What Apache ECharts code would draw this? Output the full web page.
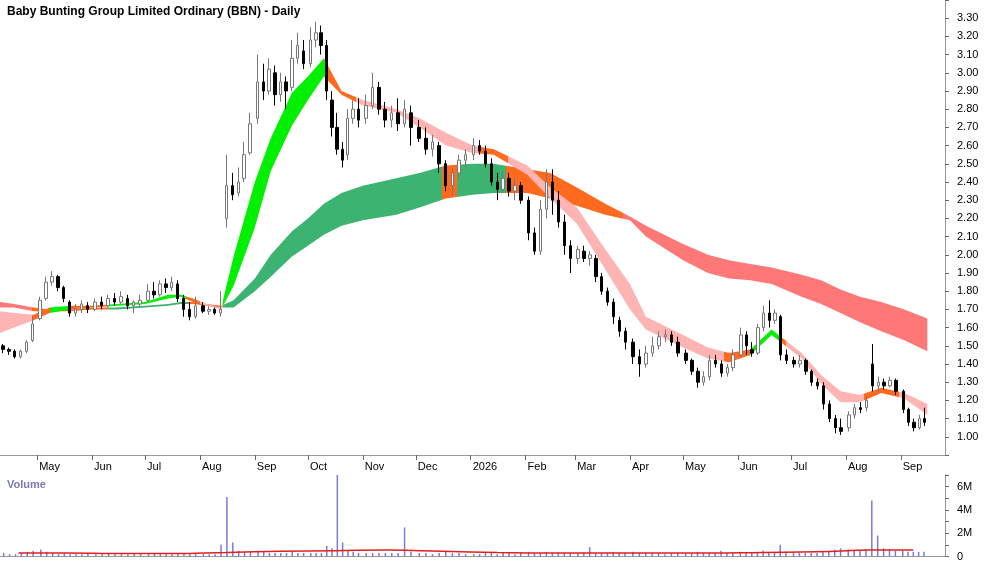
<!DOCTYPE html>
<html><head><meta charset="utf-8">
<script src="https://cdn.jsdelivr.net/npm/echarts@6/dist/echarts.min.js"></script>
<style>html,body{margin:0;padding:0;background:#fff}#c{width:1000px;height:562px}</style>
</head><body><div id="c"></div>
<script>
// months covered, with first/last trading day used
const months = ['2025-04','2025-05','2025-06','2025-07','2025-08','2025-09','2025-10','2025-11','2025-12','2026-01','2026-02','2026-03','2026-04','2026-05','2026-06','2026-07','2026-08','2026-09'];
const monthFirstDay = [10,1,1,1,1,1,1,1,1,1,1,1,1,1,1,1,1,1];
const monthLastDay  = [30,31,30,31,31,30,31,30,31,31,28,31,30,31,30,31,31,16];
// OHLC as [open, close, low, high], grouped by month
const ohlc = [
 [[1.50,1.48,1.46,1.51],[1.48,1.47,1.45,1.49],[1.47,1.44,1.43,1.48],[1.44,1.47,1.43,1.48],[1.47,1.52,1.46,1.53],[1.53,1.62,1.52,1.66]],
 [[1.65,1.75,1.64,1.77],[1.76,1.85,1.75,1.88],[1.85,1.88,1.83,1.91],[1.88,1.82,1.80,1.89],[1.82,1.76,1.74,1.83],[1.74,1.68,1.66,1.75],[1.68,1.70,1.66,1.73],[1.70,1.73,1.68,1.75],[1.72,1.70,1.68,1.74]],
 [[1.70,1.74,1.69,1.76],[1.74,1.72,1.70,1.77],[1.72,1.76,1.71,1.78],[1.76,1.74,1.72,1.79],[1.74,1.77,1.73,1.80],[1.76,1.72,1.70,1.78],[1.72,1.74,1.68,1.75],[1.73,1.75,1.71,1.78]],
 [[1.75,1.80,1.74,1.84],[1.80,1.78,1.76,1.85],[1.78,1.84,1.77,1.86],[1.84,1.82,1.79,1.87],[1.82,1.85,1.80,1.88],[1.84,1.76,1.74,1.86],[1.76,1.70,1.66,1.78],[1.70,1.66,1.64,1.74],[1.66,1.72,1.65,1.77]],
 [[1.72,1.69,1.68,1.74],[1.69,1.70,1.67,1.72],[1.70,1.68,1.67,1.71],[1.68,1.70,1.66,1.80],[2.20,2.38,2.15,2.55],[2.38,2.33,2.30,2.45],[2.34,2.40,2.32,2.48],[2.42,2.55,2.40,2.62],[2.56,2.72,2.55,2.78]],
 [[2.75,2.95,2.72,3.10],[2.95,2.90,2.85,3.05],[2.90,3.02,2.88,3.08],[3.00,2.88,2.82,3.04],[2.88,2.95,2.84,3.00],[2.95,2.90,2.80,2.98],[2.92,3.08,2.90,3.18],[3.08,3.15,3.05,3.22],[3.12,3.05,3.02,3.18]],
 [[3.05,3.18,3.03,3.25],[3.18,3.22,3.14,3.28],[3.22,3.15,3.10,3.26],[3.15,2.90,2.85,3.18],[2.85,2.70,2.65,2.90],[2.70,2.58,2.55,2.78],[2.58,2.52,2.48,2.62],[2.55,2.75,2.52,2.80],[2.75,2.80,2.72,2.85],[2.80,2.74,2.70,2.86]],
 [[2.75,2.82,2.72,2.88],[2.82,2.92,2.80,3.00],[2.92,2.80,2.77,2.95],[2.80,2.74,2.70,2.84],[2.74,2.78,2.70,2.82],[2.78,2.72,2.68,2.86],[2.72,2.80,2.70,2.85],[2.78,2.70,2.60,2.82]],
 [[2.70,2.64,2.62,2.74],[2.64,2.58,2.55,2.70],[2.58,2.62,2.54,2.66],[2.60,2.50,2.45,2.62],[2.50,2.38,2.35,2.52],[2.38,2.45,2.32,2.48],[2.45,2.52,2.42,2.55],[2.52,2.55,2.48,2.58]],
 [[2.55,2.60,2.52,2.64],[2.60,2.57,2.55,2.63],[2.57,2.50,2.48,2.60],[2.50,2.40,2.38,2.53],[2.40,2.36,2.30,2.45],[2.36,2.42,2.34,2.46],[2.42,2.35,2.32,2.45],[2.35,2.38,2.30,2.42],[2.38,2.30,2.28,2.40]],
 [[2.30,2.12,2.08,2.32],[2.12,2.02,2.00,2.15],[2.02,2.25,2.00,2.30],[2.25,2.40,2.20,2.47],[2.40,2.30,2.22,2.47],[2.30,2.18,2.15,2.35],[2.18,2.05,2.00,2.22],[2.05,1.98,1.90,2.08]],
 [[1.98,2.03,1.95,2.05],[2.02,1.98,1.96,2.05],[1.98,2.00,1.94,2.02],[1.98,1.88,1.85,2.00],[1.88,1.80,1.78,1.90],[1.80,1.74,1.72,1.82],[1.74,1.66,1.62,1.76],[1.64,1.58,1.55,1.66],[1.58,1.52,1.48,1.60]],
 [[1.52,1.44,1.40,1.54],[1.44,1.40,1.33,1.48],[1.40,1.46,1.38,1.50],[1.46,1.50,1.44,1.55],[1.50,1.55,1.48,1.58],[1.55,1.56,1.52,1.59],[1.56,1.52,1.50,1.58],[1.52,1.46,1.44,1.55]],
 [[1.46,1.42,1.40,1.48],[1.42,1.36,1.34,1.43],[1.36,1.30,1.27,1.38],[1.30,1.33,1.28,1.36],[1.33,1.42,1.31,1.45],[1.42,1.40,1.38,1.45],[1.40,1.35,1.33,1.42],[1.35,1.38,1.33,1.40],[1.38,1.45,1.36,1.48]],
 [[1.45,1.56,1.44,1.60],[1.56,1.50,1.45,1.58],[1.48,1.46,1.44,1.52],[1.46,1.60,1.45,1.62],[1.60,1.68,1.58,1.72],[1.68,1.64,1.60,1.75],[1.64,1.68,1.62,1.70],[1.66,1.45,1.42,1.67],[1.45,1.42,1.40,1.48]],
 [[1.42,1.40,1.38,1.44],[1.40,1.42,1.38,1.45],[1.42,1.36,1.34,1.43],[1.36,1.30,1.28,1.37],[1.30,1.28,1.26,1.32],[1.28,1.18,1.15,1.30],[1.18,1.10,1.08,1.20],[1.10,1.05,1.02,1.12],[1.05,1.03,1.01,1.10]],
 [[1.05,1.12,1.03,1.14],[1.12,1.16,1.10,1.18],[1.16,1.15,1.13,1.19],[1.16,1.20,1.14,1.22],[1.40,1.28,1.25,1.51],[1.28,1.30,1.25,1.33],[1.30,1.28,1.26,1.32],[1.28,1.31,1.27,1.33],[1.31,1.25,1.23,1.32]],
 [[1.25,1.15,1.13,1.26],[1.15,1.08,1.06,1.16],[1.08,1.05,1.03,1.10],[1.05,1.10,1.04,1.12],[1.10,1.08,1.06,1.16]]
];
// volume in millions, same grouping
const volume = [
 [.3,.2,.2,.3,.4,.5],
 [.6,.4,.3,.2,.3,.2,.2,.2,.3],
 [.2,.2,.3,.2,.2,.2,.2,.2],
 [.2,.3,.2,.2,.2,.3,.2,.2,.2],
 [.2,.2,.2,1.0,5.1,1.2,.5,.4,.4],
 [.5,.4,.3,.3,.3,.3,.4,.3,.3],
 [.3,.3,.3,.9,.7,7.0,1.2,.5,.4,.3],
 [.3,.3,.3,.3,.3,.3,2.5,.4],
 [.3,.3,.2,.3,.4,.3,.3,.2],
 [.2,.2,.3,.3,.2,.3,.3,.2,.3],
 [.4,.3,.3,.4,.3,.3,.3,.3],
 [.3,.3,.8,.3,.3,.3,.4,.3,.3],
 [.4,.3,.3,.3,.3,.2,.3,.3],
 [.3,.3,.4,.3,.3,.3,.5,.3,.3],
 [.4,.3,.3,.4,.5,.3,.3,1.0,.4],
 [.3,.3,.3,.3,.3,.4,.5,.6,.7],
 [.6,.5,.5,.6,4.8,1.8,.7,.6,.5],
 [.5,.4,.4,.4,.4]
];
// volume moving average (millions), one value per month
const volMA = [0.3,0.3,0.25,0.25,0.35,0.45,0.5,0.55,0.45,0.35,0.3,0.3,0.3,0.3,0.35,0.4,0.55,0.55];
// ribbon values
const bandDates = ['2025-04-10','2025-04-18','2025-04-29','2025-05-08','2025-05-20','2025-06-01','2025-06-15','2025-07-01','2025-07-14','2025-07-21','2025-07-28','2025-08-05','2025-08-13','2025-08-20','2025-09-01','2025-09-10','2025-09-22','2025-10-01','2025-10-10','2025-10-20','2025-11-01','2025-11-20','2025-12-03','2025-12-18','2026-01-02','2026-01-14','2026-02-02','2026-02-15','2026-03-02','2026-03-18','2026-04-01','2026-04-10','2026-05-01','2026-05-15','2026-05-27','2026-06-08','2026-06-20','2026-07-07','2026-07-18','2026-07-29','2026-08-09','2026-08-21','2026-09-03','2026-09-16'];
const shortTop = [1.69,1.68,1.67,1.71,1.72,1.72,1.73,1.74,1.78,1.78,1.76,1.73,1.71,1.99,2.40,2.64,2.89,2.98,3.08,2.90,2.85,2.80,2.75,2.67,2.60,2.58,2.49,2.37,2.26,2.03,1.84,1.66,1.56,1.49,1.46,1.48,1.59,1.46,1.34,1.25,1.23,1.27,1.24,1.18];
const shortBot = [1.57,1.60,1.64,1.68,1.70,1.71,1.72,1.73,1.76,1.77,1.74,1.72,1.70,1.83,2.15,2.46,2.71,2.85,2.98,2.88,2.82,2.78,2.70,2.60,2.56,2.55,2.44,2.31,2.17,1.92,1.70,1.59,1.49,1.43,1.41,1.45,1.56,1.43,1.29,1.19,1.19,1.24,1.21,1.12];
const longTop  = [1.74,1.73,1.71,1.70,1.70,1.71,1.71,1.72,1.73,1.74,1.74,1.73,1.72,1.75,1.87,2.00,2.13,2.20,2.28,2.34,2.38,2.42,2.45,2.49,2.50,2.50,2.47,2.45,2.37,2.28,2.21,2.16,2.06,2.00,1.97,1.95,1.93,1.89,1.86,1.81,1.77,1.74,1.70,1.65];
const longBot  = [1.71,1.71,1.69,1.69,1.69,1.70,1.70,1.71,1.72,1.73,1.73,1.72,1.71,1.71,1.80,1.88,1.99,2.05,2.11,2.16,2.19,2.22,2.26,2.31,2.33,2.34,2.34,2.31,2.27,2.22,2.19,2.10,1.97,1.90,1.87,1.86,1.84,1.77,1.73,1.68,1.63,1.58,1.53,1.47];
// colour regimes: [end date, colour]
const PINK='#ffb4b4', ORANGE='#ff6a1e', LGREEN='#00f000', DGREEN='#3cb371', RED='#ff7878';
const shortRegime = [['2025-04-28',PINK],['2025-05-08',ORANGE],['2025-05-20',LGREEN],['2025-06-10',ORANGE],['2025-07-24',LGREEN],['2025-08-01',ORANGE],['2025-08-14',PINK],['2025-10-11',LGREEN],['2025-10-28',ORANGE],['2026-01-05',PINK],['2026-01-22',ORANGE],['2026-05-24',PINK],['2026-06-08',ORANGE],['2026-06-24',LGREEN],['2026-06-28',ORANGE],['2026-08-11',PINK],['2026-08-31',ORANGE],['2026-12-31',PINK]];
const longRegime = [['2025-04-28',RED],['2025-06-10',ORANGE],['2025-07-25',DGREEN],['2025-08-14',ORANGE],['2025-12-16',DGREEN],['2025-12-24',ORANGE],['2026-01-21',DGREEN],['2026-03-28',ORANGE],['2026-12-31',RED]];

const T = s => new Date(s + 'T00:00:00Z').getTime();
const candles = [], vols = [], vma = [];
months.forEach((m, mi) => {
  const [y, mo] = m.split('-').map(Number);
  const a = Date.UTC(y, mo-1, monthFirstDay[mi]), b = Date.UTC(y, mo-1, monthLastDay[mi]);
  const n = ohlc[mi].length;
  ohlc[mi].forEach((d, i) => {
    const t = a + (b - a) * (i + 0.5) / n;
    candles.push([t, d[0], d[1], d[2], d[3]]);
    vols.push([t, volume[mi][i] * 1e6]);
  });
  vma.push([(a + b) / 2, volMA[mi] * 1e6]);
});
function pieces(reg){
  const p=[]; let prev=null;
  reg.forEach(([d,c])=>{ const e=T(d); p.push(prev===null?{lt:e,color:c}:{gte:prev,lt:e,color:c}); prev=e; });
  return p;
}
const sBase = bandDates.map((d,i)=>[T(d), shortBot[i]]);
const sThick = bandDates.map((d,i)=>[T(d), +(shortTop[i]-shortBot[i]).toFixed(3)]);
const lBase = bandDates.map((d,i)=>[T(d), longBot[i]]);
const lThick = bandDates.map((d,i)=>[T(d), +(longTop[i]-longBot[i]).toFixed(3)]);

const MN=['Jan','Feb','Mar','Apr','May','Jun','Jul','Aug','Sep','Oct','Nov','Dec'];
const xmin = T('2025-04-10'), xmax = T('2026-09-26');
const chart = echarts.init(document.getElementById('c'));
const axisCol = '#999';
chart.setOption({
  animation:false,
  textStyle:{fontFamily:'Liberation Sans, Arial, sans-serif'},
  title:[{text:'Baby Bunting Group Limited Ordinary (BBN) - Daily',left:2,top:1,textStyle:{fontSize:12,fontWeight:'bold',color:'#000'}},
         {text:'Volume',left:2,top:474,textStyle:{fontSize:11,fontWeight:'bold',color:'#7a7ab8'}}],
  grid:[{left:0,right:55,top:-1.5,height:456.5},{left:0,right:55,top:475,height:83}],
  visualMap:[
    {show:false,type:'piecewise',dimension:0,seriesIndex:1,pieces:pieces(longRegime)},
    {show:false,type:'piecewise',dimension:0,seriesIndex:3,pieces:pieces(shortRegime)}
  ],
  xAxis:[
    {type:'time',gridIndex:0,min:xmin,max:xmax,splitNumber:18,
     axisLine:{lineStyle:{color:axisCol}},axisTick:{show:true,length:5,lineStyle:{color:'#666'}},
     splitLine:{show:false},
     axisLabel:{color:'#000',fontSize:11,align:'left',padding:[0,0,0,2],margin:6,
       formatter:v=>{const d=new Date(v);return d.getUTCMonth()===0?String(d.getUTCFullYear()):MN[d.getUTCMonth()];}}},
    {type:'time',gridIndex:1,min:xmin,max:xmax,axisLine:{lineStyle:{color:axisCol}},axisTick:{show:false},axisLabel:{show:false},splitLine:{show:false}}
  ],
  yAxis:[
    {type:'value',gridIndex:0,position:'right',min:0.9,max:3.4,interval:0.1,
     axisLine:{show:true,lineStyle:{color:axisCol}},axisTick:{show:true,length:4,lineStyle:{color:'#666'}},splitLine:{show:false},
     axisLabel:{color:'#000',fontSize:11,margin:12,formatter:v=>(v<0.95||v>3.35)?'':v.toFixed(2)}},
    {type:'value',gridIndex:1,position:'right',min:0,max:7e6,interval:1e6,
     axisLine:{show:true,lineStyle:{color:axisCol}},axisTick:{show:true,length:4,lineStyle:{color:'#666'}},splitLine:{show:false},
     axisLabel:{color:'#000',fontSize:11,margin:12,formatter:v=>(v%2e6===0)?(v===0?'0':(v/1e6)+'M'):''}}
  ],
  series:[
    {type:'line',data:lBase,stack:'L',symbol:'none',lineStyle:{opacity:0},silent:true,z:1},
    {type:'line',data:lThick,stack:'L',symbol:'none',lineStyle:{width:0},areaStyle:{opacity:1},silent:true,z:1},
    {type:'line',data:sBase,stack:'S',symbol:'none',lineStyle:{opacity:0},silent:true,z:2},
    {type:'line',data:sThick,stack:'S',symbol:'none',lineStyle:{width:0},areaStyle:{opacity:1},silent:true,z:2},
    {type:'candlestick',data:candles,barWidth:3,z:5,
     itemStyle:{color:'#ffffff',color0:'#000000',borderColor:'#777777',borderColor0:'#000000',borderWidth:1}},
    {type:'bar',xAxisIndex:1,yAxisIndex:1,data:vols,barWidth:1.5,itemStyle:{color:'#7b7bd8'}},
    {type:'line',xAxisIndex:1,yAxisIndex:1,data:vma,symbol:'none',smooth:true,lineStyle:{color:'#e02020',width:1.5}}
  ]
});
</script></body></html>
